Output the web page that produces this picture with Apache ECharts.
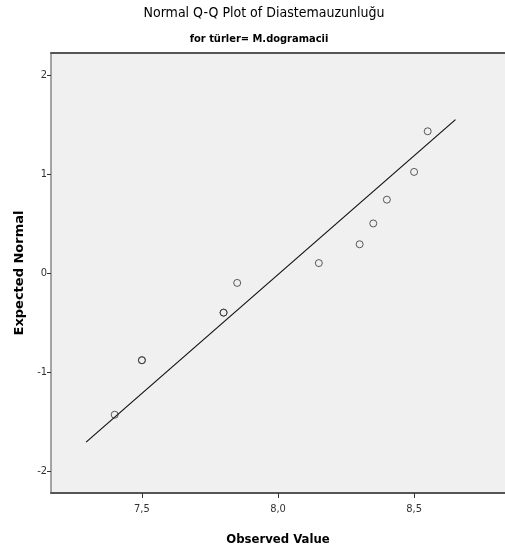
<!DOCTYPE html>
<html>
<head>
<meta charset="utf-8">
<script src="https://cdn.jsdelivr.net/npm/echarts@6/dist/echarts.min.js"></script>
<style>
  html, body { margin: 0; padding: 0; background: #ffffff; }
  #chart { width: 505px; height: 554px; }
</style>
</head>
<body>
<div id="chart"></div>
<script>
// Observed diastema lengths (sorted) and their expected normal scores
const observed = [7.40, 7.50, 7.50, 7.80, 7.80, 7.85, 8.15, 8.30, 8.35, 8.40, 8.50, 8.55];
const expected = [-1.43, -0.88, -0.88, -0.40, -0.40, -0.10, 0.10, 0.29, 0.50, 0.74, 1.02, 1.43];

// Reference line end points
const refLineX = [7.295, 8.652];
const refLineY = [-1.707, 1.548];

// Tick positions and labels
const xTicks = [7.5, 8.0, 8.5];
const xTickLabels = ['7,5', '8,0', '8,5'];
const yTicks = [-2, -1, 0, 1, 2];
const yTickLabels = ['-2', '-1', '0', '1', '2'];

const narrow = '"DejaVu Sans Condensed", "Liberation Sans Narrow", "Liberation Sans", sans-serif';

const chart = echarts.init(document.getElementById('chart'), null, { renderer: 'canvas' });

chart.setOption({
  animation: false,
  backgroundColor: '#ffffff',
  title: [
    {
      text: 'Normal Q-Q Plot of Diastemauzunluğu',
      left: 259, top: 1, textAlign: 'center',
      textStyle: { fontFamily: narrow, fontSize: 14, fontWeight: 'normal', color: '#000' }
    },
    {
      text: 'for türler= M.dogramacii',
      left: 254, top: 29, textAlign: 'center',
      textStyle: { fontFamily: narrow, fontSize: 11, fontWeight: 'bold', color: '#000' }
    }
  ],
  grid: {
    left: 51, right: -4, top: 53, bottom: 61,
    show: true, backgroundColor: '#f0f0f0', borderWidth: 0
  },
  xAxis: [
    {
      type: 'value', min: 7.166, max: 8.834,
      name: 'Observed Value', nameLocation: 'middle', nameGap: 40,
      nameTextStyle: { fontFamily: narrow, fontSize: 13, fontWeight: 'bold', color: '#000' },
      axisLine: { show: true, onZero: false, lineStyle: { color: '#555', width: 2 } },
      axisTick: { show: true, length: 5, customValues: xTicks, lineStyle: { color: '#333' } },
      axisLabel: {
        customValues: xTicks, margin: 11,
        fontFamily: narrow, fontSize: 11, color: '#333',
        formatter: v => xTickLabels[xTicks.indexOf(v)] ?? ''
      },
      splitLine: { show: false }
    },
    {
      type: 'value', position: 'top', min: 7.166, max: 8.834,
      axisLine: { show: true, onZero: false, lineStyle: { color: '#555', width: 2 } },
      axisTick: { show: false }, axisLabel: { show: false }, splitLine: { show: false }
    }
  ],
  yAxis: {
    type: 'value', min: -2.22, max: 2.22,
    name: 'Expected Normal', nameLocation: 'middle', nameGap: 24, nameRotate: 90,
    nameTextStyle: { fontFamily: '"DejaVu Sans", Verdana, sans-serif', fontSize: 13, fontWeight: 'bold', color: '#000' },
    axisLine: { show: true, onZero: false, lineStyle: { color: '#888', width: 1.5 } },
    axisTick: { show: true, length: 4, customValues: yTicks, lineStyle: { color: '#333' } },
    axisLabel: {
      customValues: yTicks, margin: 4,
      fontFamily: narrow, fontSize: 11, color: '#333',
      formatter: v => yTickLabels[yTicks.indexOf(v)] ?? ''
    },
    splitLine: { show: false }
  },
  series: [
    {
      type: 'line',
      data: refLineX.map((x, i) => [x, refLineY[i]]),
      symbol: 'none',
      lineStyle: { color: '#111', width: 1.2 },
      z: 2
    },
    {
      type: 'scatter',
      data: observed.map((x, i) => [x, expected[i]]),
      symbol: 'circle', symbolSize: 7,
      itemStyle: { color: 'rgba(0,0,0,0)', borderColor: '#333', borderWidth: 1 },
      z: 3
    }
  ]
});
</script>
</body>
</html>
